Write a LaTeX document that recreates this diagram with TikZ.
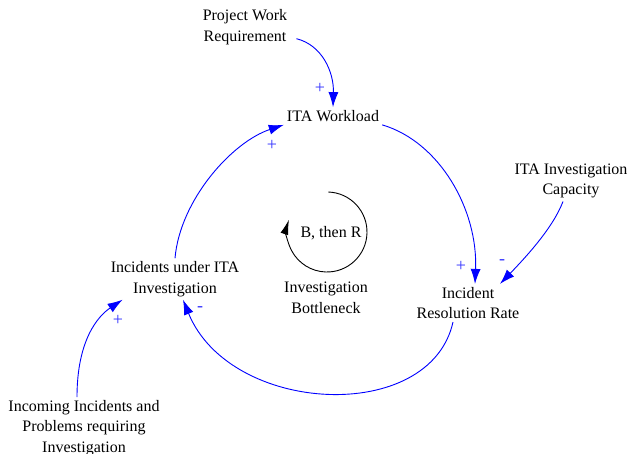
\documentclass[tikz,border=0pt]{standalone}
\usepackage{fontspec}
\setmainfont{Liberation Serif}
\usetikzlibrary{arrows.meta,positioning,calc}
\definecolor{linkBlue}{HTML}{0000FF}
\definecolor{polBlue}{HTML}{3333FF}

\begin{document}
\begin{tikzpicture}[
    x=1pt, y=1pt,
    every node/.style={font=\fontsize{16}{20.5}\selectfont},
    var/.style={align=center, inner sep=3pt},
    pol/.style={inner sep=0pt, text=polBlue, font=\fontsize{18}{18}\selectfont},
    link/.style={linkBlue, line width=0.9pt, -{Latex[length=15pt, width=10pt]}},
  ]
  \useasboundingbox (0,0) rectangle (630,-454);

  % Variables
  \node[var] (prw) at (245,-27) {Project Work\\Requirement};
  \node[var] (wl) at (333,-116) {ITA Workload};
  \node[var] (cap) at (571,-181) {ITA Investigation\\Capacity};
  \node[var] (irr) at (468,-303) {Incident\\Resolution Rate};
  \node[var] (inv) at (175,-279) {Incidents under ITA\\Investigation};
  \node[var] (inc) at (84,-428) {Incoming Incidents and\\Problems requiring\\Investigation};

  % Links
  \draw[link] ([shift={(6,9)}]prw.south east) .. controls (322,-45) and (334,-72) .. (wl.north);
  \draw[link] (inv.north) .. controls (180,-200) and (232,-142) .. (wl.south west);
  \draw[link] (wl.south east) .. controls (440,-142) and (478,-210) .. ([xshift=7]irr.north);
  \draw[link] ([xshift=-8]cap.south) .. controls (553,-228) and (525,-258) .. ([xshift=32]irr.north);
  \draw[link] ([xshift=-15]irr.south) .. controls (430,-425) and (230,-415) .. ([xshift=8]inv.south);
  \draw[link] ([xshift=-7]inc.north) .. controls (77,-340) and (98,-316) .. ([xshift=15]inv.south west);

  % Polarities
  \node[pol] (p1) at (320,-88) {+};
  \node[pol] (p2) at (272,-145) {+};
  \node[pol] (p3) at (461,-266) {+};
  \node[pol] (p4) at (502,-262) {-};
  \node[pol] (p5) at (200,-309) {-};
  \node[pol] (p6) at (118,-320) {+};

  % Loop
  \coordinate (loopc) at (327,-232);
  \draw[line width=0.9pt, -{Latex[length=15pt, width=8pt]}]
    ($(loopc)+(88:40)$) arc[start angle=88, end angle=-198, radius=40];
  \node (lp) at (331,-233) {B, then R};
  \node[var] (bn) at (326,-298) {Investigation\\Bottleneck};
\end{tikzpicture}
\end{document}
